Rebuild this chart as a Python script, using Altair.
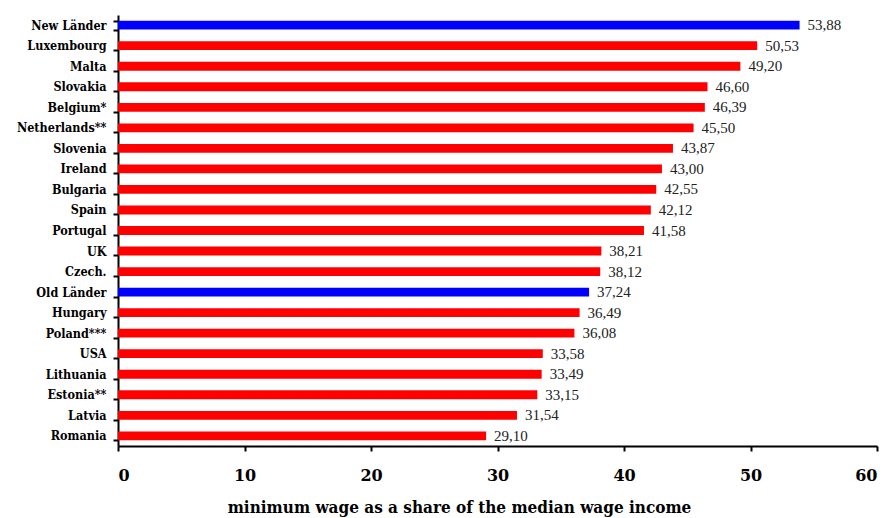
import altair as alt
import pandas as pd

countries = ["New Länder", "Luxembourg", "Malta", "Slovakia", "Belgium*", "Netherlands**",
             "Slovenia", "Ireland", "Bulgaria", "Spain", "Portugal", "UK", "Czech.",
             "Old Länder", "Hungary", "Poland***", "USA", "Lithuania", "Estonia**",
             "Latvia", "Romania"]
values = [53.88, 50.53, 49.20, 46.60, 46.39, 45.50, 43.87, 43.00, 42.55, 42.12, 41.58,
          38.21, 38.12, 37.24, 36.49, 36.08, 33.58, 33.49, 33.15, 31.54, 29.10]
groups = ["Länder" if "Länder" in c else "other" for c in countries]

df = pd.DataFrame({
    "country": countries,
    "value": values,
    "group": groups,
    "label": [f"{v:.2f}".replace(".", ",") for v in values],
})

FONT = "Liberation Serif"
BOLD = "DejaVu Serif Condensed"

base = alt.Chart(df).encode(
    y=alt.Y("country:N", sort=countries,
            scale=alt.Scale(paddingInner=0.57, paddingOuter=0.28),
            axis=alt.Axis(title=None, labelFont=BOLD, labelFontWeight="bold",
                          labelFontSize=12.5, labelColor="black", labelPadding=7,
                          tickBand="extent", tickSize=5, tickColor="black",
                          tickWidth=2, domainColor="black", domainWidth=2)),
)

bars = base.mark_bar().encode(
    x=alt.X("value:Q", scale=alt.Scale(domain=[0, 60]),
            axis=alt.Axis(values=[0, 10, 20, 30, 40, 50, 60], grid=False,
                          title="minimum wage as a share of the median wage income",
                          titleFont=BOLD,
                          titleFontSize=17, titleFontWeight="bold",
                          titleColor="black", titlePadding=16, titleX=341,
                          labelFont="DejaVu Serif",
                          labelFontSize=16, labelFontWeight="bold",
                          labelColor="black", labelPadding=16,
                          tickSize=5, tickColor="black", tickWidth=2,
                          domainColor="black", domainWidth=2)),
    color=alt.Color("group:N", scale=alt.Scale(domain=["Länder", "other"],
                                                range=["#0000FF", "#FF0000"]),
                    legend=None),
)

text = base.mark_text(align="left", baseline="middle", dx=8, font=FONT,
                      fontSize=15, color="#222222").encode(
    x="value:Q",
    text="label:N",
)

chart = (bars + text).properties(
    width=759, height=431,
    autosize=alt.AutoSizeParams(type="none"),
    padding={"left": 110, "top": 7, "right": 8, "bottom": 72},
).configure_view(stroke=None)

chart.save("out.html", embed_options={"renderer": "svg", "actions": False})
